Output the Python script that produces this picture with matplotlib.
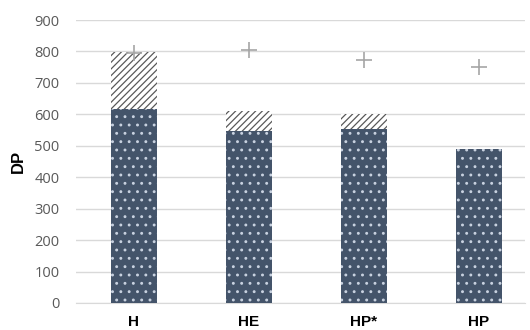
import numpy as np
import matplotlib.pyplot as plt

plt.rcParams['font.family'] = ['Open Sans', 'DejaVu Sans']
plt.rcParams['hatch.linewidth'] = 0.9

categories = ['H', 'HE', 'HP*', 'HP']
base = [618, 548, 553, 490]
extra = [179, 64, 47, 0]
markers = [795, 806, 772, 752]

fig = plt.figure(figsize=(5.3, 3.3), dpi=100)
ax = fig.add_axes([76 / 530, 27 / 330, 449 / 530, 283 / 330])

x = np.arange(len(categories))
w = 0.4
ax.bar(x, base, width=w, color='#44546A', edgecolor='#C9D2E0', hatch='..', linewidth=0, zorder=3)
ax.bar(x, extra, width=w, bottom=base, color='white', edgecolor='#595959', hatch='/////', linewidth=0, zorder=3)
ax.scatter(x, markers, marker='+', s=120, color='#A6A6A6', linewidths=1.2, zorder=4)

ax.set_ylim(0, 900)
ax.set_xlim(-0.5, 3.4)
ax.set_yticks(range(0, 901, 100))
ax.set_xticks(x)
ax.set_xticklabels(categories, fontweight='bold', fontsize=11, family=['Liberation Sans'])
ax.tick_params(axis='y', length=0, labelsize=10.5, labelcolor='#595959', pad=12)
ax.tick_params(axis='x', length=0, pad=9)
ax.grid(axis='y', color='#D9D9D9', linewidth=1, zorder=0)
for s in ['top', 'right', 'left']:
    ax.spines[s].set_visible(False)
ax.spines['bottom'].set_color('#D9D9D9')
ax.set_ylabel('DP', fontweight='bold', fontsize=12, family=['Liberation Sans'], labelpad=6)

fig.savefig('out.png', dpi=100)
